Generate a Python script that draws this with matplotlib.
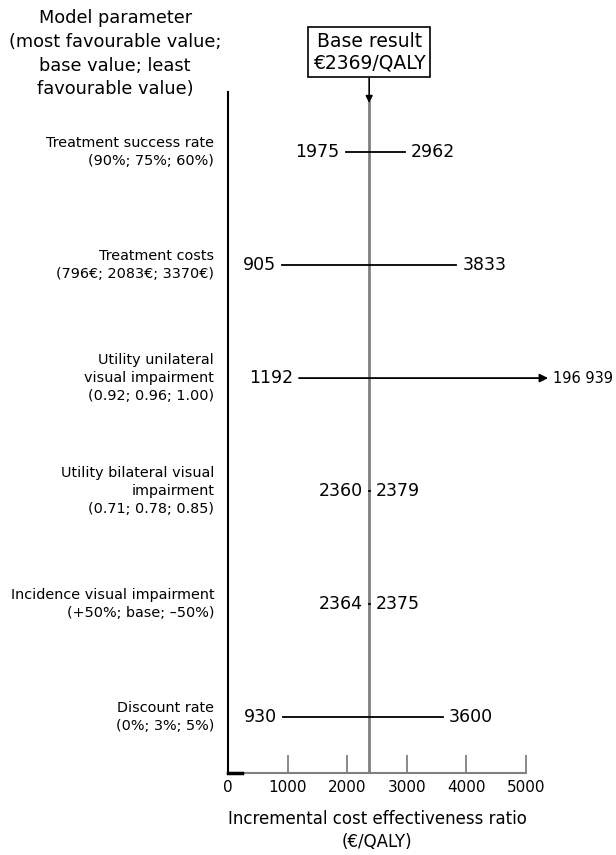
import matplotlib
matplotlib.use("Agg")
import matplotlib.pyplot as plt

# one-way sensitivity analysis, ICER in euro per QALY
params = [
    "Treatment success rate\n(90%; 75%; 60%)",
    "Treatment costs\n(796€; 2083€; 3370€)",
    "Utility unilateral\nvisual impairment\n(0.92; 0.96; 1.00)",
    "Utility bilateral visual\nimpairment\n(0.71; 0.78; 0.85)",
    "Incidence visual impairment\n(+50%; base; \u201350%)",
    "Discount rate\n(0%; 3%; 5%)",
]
low = [1975, 905, 1192, 2360, 2364, 930]
high = [2962, 3833, 196939, 2379, 2375, 3600]
base = 2369
xticks = [0, 1000, 2000, 3000, 4000, 5000]

plt.rcParams['font.family'] = 'DejaVu Sans'
grey = '#808080'

fig = plt.figure(figsize=(6.16, 8.55), dpi=100)
ax = fig.add_axes([0.370, 0.096, 0.484, 0.796])
ax.set_xlim(0, 5000)
ax.set_ylim(len(params) - 0.504, -0.53)

# base case line, starting just under the arrow from the box
ax.axvline(base, ymax=0.986, color=grey, lw=2, zorder=1)

xmax = 5000
for i, (lo, hi) in enumerate(zip(low, high)):
    if hi > xmax:
        # off-scale value: arrow running past the axis
        end = 5370
        ax.annotate('', xy=(end, i), xytext=(lo, i),
                    arrowprops=dict(arrowstyle='-|>', color='k', lw=1.3,
                                    mutation_scale=12, shrinkA=0, shrinkB=0),
                    annotation_clip=False)
        ax.text(end + 75, i, f"{hi:,}".replace(',', ' '), ha='left', va='center',
                fontsize=10.5, clip_on=False)
    else:
        ax.plot([lo, hi], [i, i], color='k', lw=1.3, zorder=2)
        ax.text(hi + 100, i, str(hi), ha='left', va='center', fontsize=12.5)
    ax.text(lo - 100, i, str(lo), ha='right', va='center', fontsize=12.5)
    ax.text(-230, i, params[i], ha='right', va='center', fontsize=10.4,
            linespacing=1.4, clip_on=False)

# spines and ticks
for s in ['top', 'right']:
    ax.spines[s].set_visible(False)
ax.spines['left'].set_color('k')
ax.spines['left'].set_linewidth(1.5)
ax.spines['bottom'].set_color(grey)
ax.spines['bottom'].set_linewidth(1.5)
ax.plot([0, 230], [len(params) - 0.504] * 2, color='k', lw=2.5,
        clip_on=False, zorder=5)
ax.set_yticks([])
ax.set_xticks(xticks)
ax.tick_params(axis='x', direction='in', length=13, width=1.3, color=grey,
               labelsize=11, pad=5)
ax.set_xlabel('Incremental cost effectiveness ratio\n(€/QALY)', fontsize=12,
              labelpad=11, linespacing=1.35)

# header for the parameter column
fig.text(0.187, 0.989, 'Model parameter\n(most favourable value;\nbase value; least\nfavourable value)',
         ha='center', va='top', fontsize=12.8, linespacing=1.4)

# base result box with arrow to the base line
ax.annotate('Base result\n€2369/QALY', xy=(base, 0.8795),
            xycoords=('data', 'figure fraction'),
            xytext=(base, 0.939), textcoords=('data', 'figure fraction'),
            ha='center', va='center', fontsize=13.5, linespacing=1.2,
            bbox=dict(boxstyle='square,pad=0.25', fc='white', ec='k', lw=1.2),
            arrowprops=dict(arrowstyle='-|>', color='k', lw=1.2,
                            mutation_scale=10, shrinkA=0, shrinkB=0),
            annotation_clip=False)

fig.savefig('out.png', dpi=100)
